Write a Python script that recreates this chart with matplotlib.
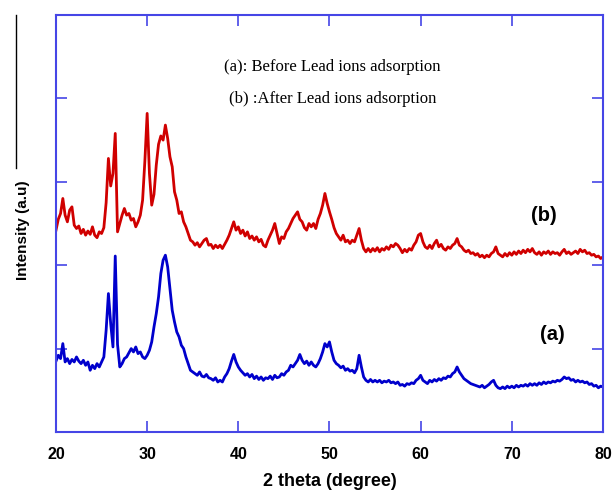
import numpy as np
import matplotlib
matplotlib.use("Agg")
import matplotlib.pyplot as plt
from matplotlib.lines import Line2D

# 2 theta grid, 0.25 degree steps from 20 to 80
two_theta = np.arange(20.0, 80.001, 0.25)

# (b) after Lead ions adsorption (offset pattern)
after_pb = [
    2.42, 2.55, 2.62, 2.80, 2.60, 2.52, 2.66, 2.70, 2.48, 2.44, 2.47, 2.38, 2.43, 2.36, 2.41, 2.37, 2.46, 2.36, 2.33, 2.40,
    2.38, 2.45, 2.75, 3.28, 2.95, 3.10, 3.58, 2.40, 2.50, 2.60, 2.68, 2.60, 2.62, 2.54, 2.56, 2.46, 2.52, 2.60, 2.78, 3.25,
    3.82, 3.10, 2.72, 2.85, 3.20, 3.45, 3.55, 3.50, 3.68, 3.52, 3.30, 3.18, 2.88, 2.78, 2.62, 2.64, 2.52, 2.46, 2.38, 2.30,
    2.28, 2.24, 2.27, 2.22, 2.26, 2.30, 2.32, 2.24, 2.25, 2.20, 2.24, 2.21, 2.24, 2.20, 2.25, 2.30, 2.36, 2.44, 2.52, 2.42,
    2.46, 2.38, 2.42, 2.35, 2.40, 2.32, 2.35, 2.30, 2.34, 2.28, 2.31, 2.24, 2.22, 2.30, 2.36, 2.42, 2.50, 2.38, 2.26, 2.34,
    2.32, 2.40, 2.44, 2.50, 2.56, 2.60, 2.64, 2.55, 2.52, 2.45, 2.42, 2.50, 2.46, 2.50, 2.44, 2.55, 2.62, 2.72, 2.86, 2.74,
    2.64, 2.55, 2.45, 2.38, 2.34, 2.30, 2.36, 2.28, 2.30, 2.26, 2.30, 2.28, 2.36, 2.44, 2.30, 2.20, 2.16, 2.20, 2.16, 2.20,
    2.17, 2.21, 2.16, 2.20, 2.18, 2.22, 2.19, 2.24, 2.22, 2.26, 2.24, 2.20, 2.15, 2.19, 2.16, 2.20, 2.18, 2.24, 2.28, 2.36,
    2.38, 2.28, 2.22, 2.20, 2.24, 2.20, 2.26, 2.30, 2.22, 2.25, 2.20, 2.18, 2.22, 2.20, 2.24, 2.26, 2.32, 2.24, 2.22, 2.18,
    2.16, 2.18, 2.14, 2.15, 2.12, 2.14, 2.10, 2.12, 2.09, 2.12, 2.10, 2.14, 2.16, 2.22, 2.14, 2.12, 2.10, 2.14, 2.11, 2.15,
    2.12, 2.16, 2.13, 2.17, 2.14, 2.18, 2.15, 2.19, 2.16, 2.20, 2.15, 2.13, 2.16, 2.12, 2.16, 2.14, 2.17, 2.13, 2.16, 2.14,
    2.15, 2.12, 2.16, 2.19, 2.14, 2.16, 2.13, 2.15, 2.17, 2.14, 2.19, 2.16, 2.18, 2.14, 2.15, 2.12, 2.13, 2.10, 2.11, 2.08,
    2.10,
]

# (a) before Lead ions adsorption
before_pb = [
    0.85, 0.92, 0.88, 1.06, 0.84, 0.88, 0.82, 0.87, 0.84, 0.90, 0.85, 0.82, 0.86, 0.80, 0.84, 0.74, 0.80, 0.76, 0.82, 0.78,
    0.84, 0.90, 1.22, 1.66, 1.30, 1.02, 2.11, 1.05, 0.78, 0.82, 0.88, 0.90, 0.95, 1.00, 0.96, 1.02, 0.94, 0.96, 0.90, 0.88,
    0.92, 0.98, 1.08, 1.26, 1.42, 1.62, 1.90, 2.06, 2.12, 1.98, 1.72, 1.46, 1.32, 1.20, 1.14, 1.04, 1.00, 0.90, 0.82, 0.74,
    0.72, 0.70, 0.68, 0.72, 0.67, 0.66, 0.69, 0.65, 0.64, 0.62, 0.65, 0.60, 0.62, 0.60, 0.66, 0.70, 0.76, 0.85, 0.93, 0.84,
    0.78, 0.74, 0.71, 0.68, 0.70, 0.66, 0.69, 0.64, 0.67, 0.63, 0.66, 0.62, 0.65, 0.64, 0.67, 0.63, 0.68, 0.65, 0.66, 0.70,
    0.68, 0.72, 0.74, 0.80, 0.78, 0.82, 0.86, 0.93, 0.86, 0.82, 0.85, 0.80, 0.84, 0.80, 0.78, 0.82, 0.88, 0.96, 1.06, 1.02,
    1.08, 0.96, 0.86, 0.82, 0.80, 0.77, 0.79, 0.74, 0.76, 0.73, 0.74, 0.71, 0.76, 0.92, 0.78, 0.66, 0.62, 0.60, 0.63, 0.60,
    0.62, 0.60, 0.62, 0.59, 0.61, 0.60, 0.62, 0.59, 0.60, 0.58, 0.60, 0.56, 0.57, 0.55, 0.58, 0.57, 0.59, 0.58, 0.62, 0.64,
    0.68, 0.62, 0.60, 0.58, 0.62, 0.60, 0.63, 0.61, 0.64, 0.62, 0.65, 0.64, 0.67, 0.66, 0.70, 0.72, 0.78, 0.72, 0.68, 0.64,
    0.62, 0.60, 0.58, 0.57, 0.56, 0.55, 0.54, 0.56, 0.53, 0.55, 0.57, 0.60, 0.62, 0.56, 0.53, 0.52, 0.54, 0.52, 0.55, 0.53,
    0.55, 0.53, 0.56, 0.54, 0.56, 0.55, 0.57, 0.55, 0.58, 0.56, 0.58, 0.56, 0.59, 0.57, 0.60, 0.58, 0.60, 0.59, 0.61, 0.60,
    0.62, 0.61, 0.63, 0.66, 0.64, 0.65, 0.62, 0.63, 0.60, 0.62, 0.60, 0.61, 0.59, 0.60, 0.57, 0.58, 0.55, 0.56, 0.53, 0.55,
    0.54,
]

x_ticks = [20, 30, 40, 50, 60, 70, 80]
y_ticks = [1, 2, 3, 4]

frame_col = "#4646e6"

fig = plt.figure(figsize=(6.14, 4.93), dpi=100)
ax = fig.add_axes([0.0912, 0.1237, 0.8908, 0.8459])

ax.plot(two_theta, after_pb, color="#d00000", lw=2.0)
ax.plot(two_theta, before_pb, color="#0000cc", lw=2.0)

ax.set_xlim(20, 80)
ax.set_ylim(0, 5)
ax.set_xticks(x_ticks)
ax.set_yticks(y_ticks)
ax.set_yticklabels([])
ax.tick_params(direction="in", length=8, width=1.2, color=frame_col,
               top=True, right=True, labelsize=11.5, pad=11)
for lab in ax.get_xticklabels():
    lab.set_fontweight("bold")
    lab.set_family("Liberation Sans")
for sp in ax.spines.values():
    sp.set_color(frame_col)
    sp.set_linewidth(1.5)

ax.set_xlabel("2 theta (degree)", fontsize=13, fontweight="bold",
              family="Liberation Sans", labelpad=8)
fig.text(0.038, 0.533, "Intensity (a.u)", rotation=90, fontsize=11,
         fontweight="bold", family="Liberation Sans", ha="center", va="center")
fig.add_artist(Line2D([0.026, 0.026], [0.97, 0.66], color="black", lw=1))

ax.text(50.3, 4.38, "(a): Before Lead ions adsorption", fontsize=12,
        family="Liberation Serif", ha="center", va="center")
ax.text(50.3, 3.99, "(b) :After Lead ions adsorption", fontsize=12,
        family="Liberation Serif", ha="center", va="center")
ax.text(73.5, 2.6, "(b)", fontsize=14.5, fontweight="bold",
        family="Liberation Sans", ha="center", va="center")
ax.text(74.5, 1.17, "(a)", fontsize=14.5, fontweight="bold",
        family="Liberation Sans", ha="center", va="center")

fig.savefig("out.png", dpi=100)
